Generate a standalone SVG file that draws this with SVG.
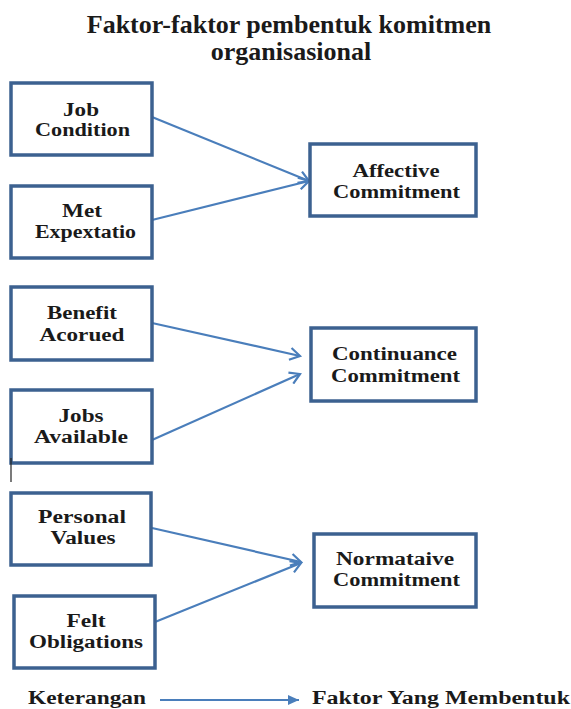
<svg xmlns="http://www.w3.org/2000/svg" width="571" height="709" viewBox="0 0 571 709">
<style>
.box{fill:#fff;stroke:#3c6190;stroke-width:3.5}
text{font-family:'Liberation Serif','DejaVu Serif',serif;font-weight:700;fill:#1a1a1a;text-anchor:middle}
.t{font-size:18px}
.title{font-size:26px}
.c{stroke:#4a7ebb;stroke-width:2.2;fill:none}
</style>
<defs>
<marker id="open" markerWidth="14" markerHeight="14" refX="11" refY="7" orient="auto" markerUnits="userSpaceOnUse">
<path d="M1,1 L11,7 L1,13" fill="none" stroke="#4a7ebb" stroke-width="2.2"/>
</marker>
<marker id="solid" markerWidth="12" markerHeight="10" refX="11" refY="5" orient="auto" markerUnits="userSpaceOnUse">
<path d="M0,0 L11,5 L0,10 Z" fill="#4a7ebb"/>
</marker>
</defs>
<g id="title">
<text class="title" x="289" y="33">Faktor-faktor pembentuk komitmen</text>
<text class="title" x="291" y="60">organisasional</text>
</g>
<g id="connectors">
<line class="c" x1="152" y1="117" x2="309" y2="181" marker-end="url(#open)"/>
<line class="c" x1="152" y1="220" x2="309" y2="181" marker-end="url(#open)"/>
<line class="c" x1="152" y1="323" x2="300" y2="356" marker-end="url(#open)"/>
<line class="c" x1="152" y1="440" x2="300" y2="374" marker-end="url(#open)"/>
<line class="c" x1="152" y1="528" x2="301" y2="562" marker-end="url(#open)"/>
<line class="c" x1="155" y1="622" x2="301" y2="563" marker-end="url(#open)"/>
<line class="c" x1="160" y1="700" x2="299" y2="700" marker-end="url(#solid)"/>
</g>
<g id="job-condition">
<rect class="box" x="11" y="83" width="141" height="72"/>
<text class="t" x="81" y="116" textLength="36" lengthAdjust="spacingAndGlyphs">Job</text>
<text class="t" x="82.5" y="136" textLength="95" lengthAdjust="spacingAndGlyphs">Condition</text>
</g>
<g id="met-expextatio">
<rect class="box" x="11" y="186" width="141" height="72"/>
<text class="t" x="82" y="217" textLength="40" lengthAdjust="spacingAndGlyphs">Met</text>
<text class="t" x="85.5" y="238" textLength="101" lengthAdjust="spacingAndGlyphs">Expextatio</text>
</g>
<g id="affective-commitment">
<rect class="box" x="310" y="144" width="166" height="72"/>
<text class="t" x="396" y="177" textLength="87" lengthAdjust="spacingAndGlyphs">Affective</text>
<text class="t" x="396.5" y="198" textLength="127" lengthAdjust="spacingAndGlyphs">Commitment</text>
</g>
<g id="benefit-acorued">
<rect class="box" x="11" y="287" width="141" height="73"/>
<text class="t" x="82" y="319" textLength="70" lengthAdjust="spacingAndGlyphs">Benefit</text>
<text class="t" x="82" y="341" textLength="85" lengthAdjust="spacingAndGlyphs">Acorued</text>
</g>
<g id="jobs-available">
<rect class="box" x="11" y="390" width="141" height="73"/>
<text class="t" x="81" y="422" textLength="45" lengthAdjust="spacingAndGlyphs">Jobs</text>
<text class="t" x="81" y="443" textLength="94" lengthAdjust="spacingAndGlyphs">Available</text>
</g>
<g id="continuance-commitment">
<rect class="box" x="311" y="328" width="165" height="73"/>
<text class="t" x="394.5" y="360" textLength="125" lengthAdjust="spacingAndGlyphs">Continuance</text>
<text class="t" x="395.5" y="382" textLength="129" lengthAdjust="spacingAndGlyphs">Commitment</text>
</g>
<g id="personal-values">
<rect class="box" x="11" y="493" width="140" height="72"/>
<text class="t" x="82" y="523" textLength="88" lengthAdjust="spacingAndGlyphs">Personal</text>
<text class="t" x="83" y="544" textLength="65" lengthAdjust="spacingAndGlyphs">Values</text>
</g>
<g id="felt-obligations">
<rect class="box" x="14" y="596" width="141" height="72"/>
<text class="t" x="86" y="627" textLength="39" lengthAdjust="spacingAndGlyphs">Felt</text>
<text class="t" x="86" y="648" textLength="114" lengthAdjust="spacingAndGlyphs">Obligations</text>
</g>
<g id="normataive-commitment">
<rect class="box" x="314" y="534" width="162" height="73"/>
<text class="t" x="395" y="565" textLength="118" lengthAdjust="spacingAndGlyphs">Normataive</text>
<text class="t" x="396.5" y="586" textLength="127" lengthAdjust="spacingAndGlyphs">Commitment</text>
</g>
<line x1="11" y1="458" x2="11" y2="482" stroke="#222" stroke-width="1.2"/>
<g id="legend">
<text class="t" x="87" y="704" textLength="118" lengthAdjust="spacingAndGlyphs">Keterangan</text>
<text class="t" x="441" y="704" textLength="258" lengthAdjust="spacingAndGlyphs">Faktor Yang Membentuk</text>
</g>
</svg>
